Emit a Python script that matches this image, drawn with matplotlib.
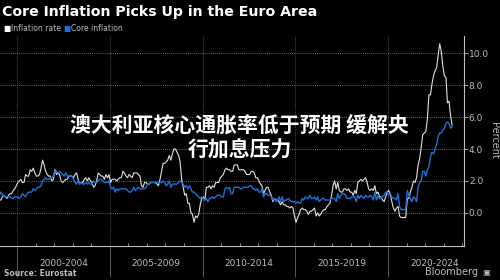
import numpy as np
import matplotlib
matplotlib.use('Agg')
import matplotlib.pyplot as plt

# monthly year-on-year rates, Jan 1999 - Jun 2023 (percent)
headline = [
    0.8, 0.8, 1.0, 1.1, 1.0, 0.9, 1.1, 1.2, 1.2, 1.4, 1.5, 1.7,   # 1999
    1.9, 2.0, 2.1, 1.9, 1.9, 2.4, 2.3, 2.3, 2.7, 2.6, 2.8, 2.5,   # 2000
    2.3, 2.3, 2.4, 2.8, 3.3, 3.0, 2.6, 2.4, 2.3, 2.3, 2.0, 2.1,   # 2001
    2.7, 2.4, 2.5, 2.4, 2.0, 1.9, 2.0, 2.1, 2.1, 2.3, 2.3, 2.3,   # 2002
    2.2, 2.4, 2.5, 2.1, 1.8, 1.9, 1.9, 2.1, 2.2, 2.0, 2.2, 2.0,   # 2003
    1.9, 1.6, 1.7, 2.0, 2.5, 2.4, 2.3, 2.3, 2.1, 2.4, 2.2, 2.4,   # 2004
    1.9, 2.1, 2.1, 2.1, 2.0, 2.1, 2.2, 2.2, 2.6, 2.5, 2.3, 2.2,   # 2005
    2.4, 2.3, 2.2, 2.5, 2.5, 2.5, 2.4, 2.3, 1.7, 1.6, 1.9, 1.9,   # 2006
    1.8, 1.8, 1.9, 1.9, 1.9, 1.9, 1.8, 1.7, 2.1, 2.6, 3.1, 3.1,   # 2007
    3.2, 3.3, 3.6, 3.3, 3.7, 4.0, 4.0, 3.8, 3.6, 3.2, 2.1, 1.6,   # 2008
    1.1, 1.2, 0.6, 0.6, 0.0, -0.1, -0.6, -0.2, -0.3, -0.1, 0.5, 0.9,  # 2009
    1.0, 0.8, 1.6, 1.6, 1.7, 1.5, 1.7, 1.6, 1.9, 1.9, 1.9, 2.2,   # 2010
    2.3, 2.4, 2.7, 2.8, 2.7, 2.7, 2.6, 2.6, 3.0, 3.0, 3.0, 2.7,   # 2011
    2.7, 2.7, 2.7, 2.6, 2.4, 2.4, 2.4, 2.6, 2.6, 2.5, 2.2, 2.2,   # 2012
    2.0, 1.8, 1.7, 1.2, 1.4, 1.6, 1.6, 1.3, 1.1, 0.7, 0.9, 0.8,   # 2013
    0.8, 0.7, 0.5, 0.7, 0.5, 0.5, 0.4, 0.4, 0.3, 0.4, 0.3, -0.2,  # 2014
    -0.6, -0.3, -0.1, 0.2, 0.3, 0.2, 0.2, 0.1, -0.1, 0.1, 0.1, 0.2,  # 2015
    0.3, -0.2, 0.0, -0.2, -0.1, 0.1, 0.2, 0.2, 0.4, 0.5, 0.6, 1.1,  # 2016
    1.7, 2.0, 1.5, 1.9, 1.4, 1.3, 1.3, 1.5, 1.5, 1.4, 1.5, 1.3,   # 2017
    1.3, 1.1, 1.4, 1.2, 1.9, 2.0, 2.1, 2.0, 2.1, 2.2, 1.9, 1.5,   # 2018
    1.4, 1.5, 1.4, 1.7, 1.2, 1.3, 1.0, 1.0, 0.8, 0.7, 1.0, 1.3,   # 2019
    1.4, 1.2, 0.7, 0.3, 0.1, 0.3, 0.4, -0.2, -0.3, -0.3, -0.3, -0.3,  # 2020
    0.9, 0.9, 1.3, 1.6, 2.0, 1.9, 2.2, 3.0, 3.4, 4.1, 4.9, 5.0,   # 2021
    5.1, 5.9, 7.4, 7.4, 8.1, 8.6, 8.9, 9.1, 9.9, 10.6, 10.1, 9.2,  # 2022
    8.6, 8.5, 6.9, 7.0, 6.1, 5.5,                                 # 2023
]
core = [
    1.1, 1.3, 1.1, 1.1, 1.0, 1.0, 1.0, 1.0, 0.9, 0.9, 1.0, 1.0,   # 1999
    1.0, 0.9, 1.0, 1.2, 1.1, 1.0, 1.2, 1.3, 1.3, 1.3, 1.5, 1.4,   # 2000
    1.5, 1.6, 1.6, 1.7, 2.0, 2.1, 2.2, 2.1, 2.1, 2.2, 2.2, 2.3,   # 2001
    2.6, 2.6, 2.5, 2.6, 2.5, 2.4, 2.3, 2.5, 2.3, 2.3, 2.3, 2.3,   # 2002
    2.1, 1.9, 1.8, 2.0, 1.8, 1.9, 1.8, 1.8, 1.9, 1.8, 1.9, 1.8,   # 2003
    1.8, 2.0, 1.9, 1.9, 2.0, 2.1, 2.1, 2.0, 1.9, 1.9, 1.9, 2.0,   # 2004
    1.6, 1.5, 1.6, 1.3, 1.5, 1.4, 1.5, 1.5, 1.5, 1.5, 1.5, 1.4,   # 2005
    1.3, 1.3, 1.4, 1.6, 1.4, 1.5, 1.6, 1.5, 1.5, 1.5, 1.5, 1.6,   # 2006
    1.8, 1.8, 1.9, 1.9, 1.9, 1.9, 1.9, 1.9, 1.9, 1.9, 2.0, 1.9,   # 2007
    1.7, 1.8, 2.0, 1.6, 1.8, 1.8, 1.8, 1.8, 1.9, 2.0, 1.9, 1.8,   # 2008
    1.6, 1.7, 1.5, 1.7, 1.5, 1.3, 1.3, 1.2, 1.1, 1.0, 0.9, 1.0,   # 2009
    0.9, 0.8, 0.9, 0.7, 0.9, 0.9, 1.0, 0.9, 1.0, 1.1, 1.1, 1.1,   # 2010
    1.0, 1.0, 1.5, 1.6, 1.5, 1.6, 1.2, 1.2, 1.6, 1.6, 1.6, 1.6,   # 2011
    1.5, 1.5, 1.6, 1.6, 1.6, 1.6, 1.7, 1.7, 1.5, 1.5, 1.4, 1.5,   # 2012
    1.3, 1.3, 1.5, 1.0, 1.2, 1.2, 1.1, 1.1, 1.0, 0.8, 0.9, 0.7,   # 2013
    0.8, 1.0, 0.7, 1.0, 0.7, 0.8, 0.8, 0.9, 0.8, 0.7, 0.7, 0.7,   # 2014
    0.6, 0.7, 0.6, 0.6, 0.9, 0.8, 1.0, 0.9, 0.9, 1.1, 0.9, 0.9,   # 2015
    1.0, 0.8, 1.0, 0.7, 0.8, 0.9, 0.9, 0.8, 0.8, 0.8, 0.8, 0.9,   # 2016
    0.9, 0.9, 0.7, 1.2, 0.9, 1.1, 1.2, 1.2, 1.1, 0.9, 0.9, 0.9,   # 2017
    1.0, 1.0, 1.0, 0.7, 1.1, 0.9, 1.1, 1.0, 0.9, 1.1, 1.0, 1.0,   # 2018
    1.1, 1.0, 0.8, 1.3, 0.8, 1.1, 0.9, 0.9, 1.0, 1.1, 1.3, 1.3,   # 2019
    1.1, 1.2, 1.0, 0.9, 0.9, 0.8, 1.2, 0.4, 0.2, 0.2, 0.2, 0.2,   # 2020
    1.4, 1.1, 0.9, 0.7, 1.0, 0.9, 0.7, 1.6, 1.9, 2.0, 2.6, 2.6,   # 2021
    2.3, 2.7, 2.9, 3.5, 3.8, 3.7, 4.0, 4.3, 4.8, 5.0, 5.0, 5.2,   # 2022
    5.3, 5.6, 5.7, 5.6, 5.3, 5.4,                                 # 2023
]
start_year = 1999
period_labels = ['2000-2004', '2005-2009', '2010-2014', '2015-2019', '2020-2024']
period_edges = [2000, 2005, 2010, 2015, 2020]
y_ticks = [0, 2, 4, 6, 8, 10]

BG = '#000000'
WHITE_LINE = '#e0e0e0'
BLUE_LINE = '#1f6fd6'
GRAY = '#bdbdbd'

t = start_year + (np.arange(len(headline)) + 0.5) / 12.0

fig = plt.figure(figsize=(5, 2.8), dpi=100, facecolor=BG)
ax = fig.add_axes([0.0, 0.121, 0.928, 0.750], facecolor=BG)

# grid
for y in y_ticks:
    ax.axhline(y, color='#8a8a8a', lw=0.6, ls=(0, (1, 1.5)), zorder=1)
for x in period_edges:
    ax.axvline(x, color='#6a6a6a', lw=0.6, ls=(0, (1, 1.5)), zorder=1)

ax.plot(t, headline, color=WHITE_LINE, lw=0.8, zorder=3)
ax.plot(t, core, color=BLUE_LINE, lw=1.0, zorder=4)

ax.set_xlim(1999.08, 2024.1)
ax.set_ylim(-2.09, 11.08)

for s in ['top', 'left']:
    ax.spines[s].set_visible(False)
ax.spines['right'].set_color(GRAY)
ax.spines['bottom'].set_color(GRAY)
ax.spines['right'].set_linewidth(0.8)
ax.spines['bottom'].set_linewidth(0.8)

ax.yaxis.tick_right()
ax.set_yticks(y_ticks)
ax.set_yticklabels([f'{v:.1f}' for v in y_ticks])
ax.tick_params(axis='y', colors=GRAY, labelsize=6.5, length=3, width=0.6, pad=0.5)
fig.text(0.988, 0.50, 'Percent', color=GRAY, fontsize=7, rotation=270,
         ha='center', va='center')

# year minor ticks, period dividers below the axis
ax.set_xticks(np.arange(2000, 2025), minor=True)
ax.set_xticks(period_edges)
ax.set_xticklabels([])
ax.tick_params(axis='x', which='minor', colors=GRAY, length=2, width=0.5, direction='in')
ax.tick_params(axis='x', which='major', colors='#6a6a6a', length=22, width=0.6, direction='out')
for lab, x0 in zip(period_labels, period_edges):
    ax.text(x0 + 2.5, -0.085, lab, transform=ax.get_xaxis_transform(),
            ha='center', va='center', color=GRAY, fontsize=6.5)

# title and legend
fig.text(0.004, 0.958, 'Core Inflation Picks Up in the Euro Area', color='white',
         fontsize=10.2, fontweight='bold', ha='left', va='center')
fig.text(0.006, 0.897, '\u25A0', color='white', fontsize=5.5, ha='left', va='center')
fig.text(0.022, 0.897, 'Inflation rate', color=GRAY, fontsize=5.5, ha='left', va='center')
fig.text(0.126, 0.897, '\u25A0', color=BLUE_LINE, fontsize=5.5, ha='left', va='center')
fig.text(0.142, 0.897, 'Core inflation', color=GRAY, fontsize=5.5, ha='left', va='center')

# footer
fig.text(0.008, 0.022, 'Source: Eurostat', color=GRAY, fontsize=5.5,
         fontweight='bold', ha='left', va='center')
fig.text(0.955, 0.027, 'Bloomberg', color=GRAY, fontsize=7, ha='right', va='center')
fig.text(0.965, 0.027, '\u25A3', color=GRAY, fontsize=6, ha='left', va='center')

# overlay headline
cjk = ['Noto Sans CJK SC', 'DejaVu Sans']
fig.text(0.479, 0.553, '澳大利亚核心通胀率低于预期 缓解央', color='white', family=cjk,
         fontsize=15, fontweight='bold', ha='center', va='center')
fig.text(0.479, 0.464, '行加息压力', color='white', family=cjk,
         fontsize=15, fontweight='bold', ha='center', va='center')

fig.savefig('out.png', dpi=100, facecolor=BG)
